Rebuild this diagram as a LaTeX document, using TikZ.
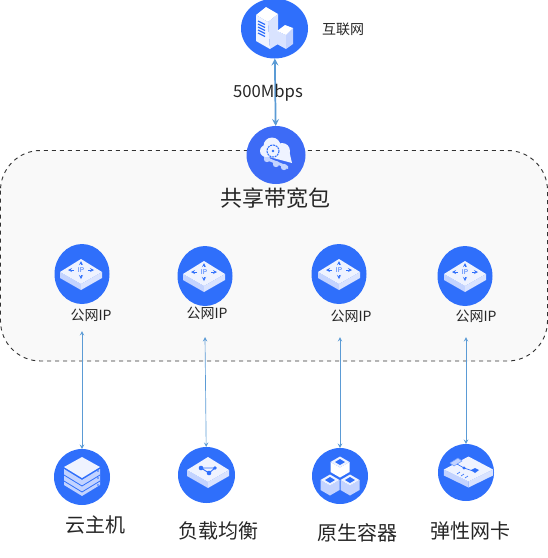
\documentclass[tikz,border=0pt]{standalone}
\usepackage{fontspec}
\setmainfont{Noto Sans CJK SC}
\usetikzlibrary{shapes.geometric, arrows}

\definecolor{discblue}{HTML}{2F6FFB}
\definecolor{cloudblue}{HTML}{3D6BF6}
\definecolor{linkblue}{HTML}{5B9BD5}
\definecolor{facetop}{HTML}{EFF3FF}
\definecolor{faceleft}{HTML}{C3D3FF}
\definecolor{faceright}{HTML}{D9E3FF}

\tikzset{
    disc/.style 2 args={ellipse, fill=discblue, draw=none, inner sep=0pt, outer sep=0pt, minimum width=#1*0.75pt, minimum height=#2*0.75pt},
    txt/.style={inner sep=0pt, text=black!85},
    link/.style={stealth-stealth, linkblue, line width=0.5pt},
    pics/slab/.style={code={
        \fill[faceleft] (-21,0) -- (0,12) -- (0,18) -- (-21,6) -- cycle;
        \fill[faceright] (21,0) -- (0,12) -- (0,18) -- (21,6) -- cycle;
        \fill[facetop] (-21,0) -- (0,-13) -- (21,0) -- (0,12) -- cycle;
    }},
    pics/ipmark/.style={code={
        \node[inner sep=0pt, text=discblue, font=\fontsize{5}{6}\selectfont] (-ip) at (0,0) {IP};
        \draw[discblue, line width=0.35pt, -stealth] (-7,0) -- (-13,0);
        \draw[discblue, line width=0.35pt, -stealth] (7,0) -- (13,0);
        \draw[discblue, line width=0.35pt, -stealth] (0,-5) -- (0,-9);
        \draw[discblue, line width=0.35pt, -stealth] (0,5) -- (0,9);
    }},
    pics/cube/.style={code={
        \fill[#1] (-9.5,0) -- (0,5.5) -- (9.5,0) -- (9.5,10) -- (0,15.5) -- (-9.5,10) -- cycle;
        \fill[facetop] (-9.5,0) -- (0,-5.5) -- (9.5,0) -- (0,5.5) -- cycle;
        \fill[discblue] (-5,0) -- (0,-3) -- (5,0) -- (0,3) -- cycle;
    }},
}

\begin{document}
\begin{tikzpicture}[x=0.75pt, y=-0.75pt]
    \useasboundingbox (0,0) rectangle (548,558);

    % container
    \draw[dashed, line width=0.7pt, black!80, fill=black!2.5, rounded corners=30pt] (0.5,150.5) rectangle (547.5,361);

    % discs
    \node[disc={67}{60}] (inet) at (274.5,28.5) {};
    \node[disc={59}{58}, fill=cloudblue] (bwpkg) at (276,155) {};
    \node[disc={55}{60}] (ipA) at (82,274) {};
    \node[disc={55}{60}] (ipB) at (205,276) {};
    \node[disc={55}{60}] (ipC) at (339,274) {};
    \node[disc={55}{60}] (ipD) at (465,276) {};
    \node[disc={56}{56}] (ecs) at (82,477) {};
    \node[disc={57}{56}] (slb) at (206.5,475) {};
    \node[disc={56}{56}] (ctr) at (340,476) {};
    \node[disc={56}{57}] (eni) at (466,472.5) {};

    % building
    \fill[white] (256,15) -- (266,7) -- (278,14) -- (268,22) -- cycle;
    \fill[facetop] (256,15) -- (268,22) -- (270,49) -- (256,41) -- cycle;
    \fill[faceright] (268,22) -- (278,14) -- (278,44) -- (270,49) -- cycle;
    \foreach \h in {21,24,27,30,33}
        \draw[discblue, line width=0.9pt] (258,\h) -- (265,\h+3.5);
    \fill[faceright] (277,31) -- (286,35) -- (286,49) -- (277,44) -- cycle;
    \fill[faceleft] (286,35) -- (293,28) -- (293,44) -- (286,49) -- cycle;
    \fill[white] (277,31) -- (285,25) -- (293,28) -- (286,35) -- cycle;

    % cloud
    \foreach \px/\py in {267/159, 276/164, 284/167}
        \fill[faceleft] (\px,\py) circle (3.2);
    \fill[faceleft] (264,156) -- (288,166) -- (288,169) -- (264,159) -- cycle;
    \fill[facetop] (272,146) circle (8.5);
    \fill[facetop] (282,151) circle (8);
    \fill[facetop] (266,151) circle (6);
    \fill[facetop] (261,150) -- (289,150) -- (292,163) -- (262,155) -- cycle;
    \draw[discblue, line width=0.8pt, dash pattern=on 1.5pt off 0.6pt] (273,151) circle (6);
    \fill[discblue] (273,151) circle (1.4);

    % public ip icons
    \pic at (81,272) {slab};
    \pic at (81,270) {ipmark};
    \pic at (204,274) {slab};
    \pic at (204,272) {ipmark};
    \pic at (339,272) {slab};
    \pic at (339,270) {ipmark};
    \pic at (465,274) {slab};
    \pic at (465,272) {ipmark};

    % server stack
    \fill[faceleft] (64,469) -- (82,480) -- (100,469) -- (100,485) -- (82,496) -- (64,485) -- cycle;
    \draw[discblue, line width=0.6pt] (64,475) -- (82,486) -- (100,475);
    \draw[discblue, line width=0.6pt] (64,481) -- (82,492) -- (100,481);
    \fill[facetop] (64,467) -- (82,457) -- (100,467) -- (82,478) -- cycle;
    \foreach \h in {471,478,485}
        \fill[discblue] (98,\h) circle (0.9);

    % balancer
    \pic at (208,470) {slab};
    \draw[discblue, line width=0.7pt] (201,468) -- (215,468) -- (209,473) -- cycle;
    \fill[discblue] (201,468) circle (2.3);
    \fill[discblue] (215,468) circle (1.8);
    \fill[discblue] (209,473) circle (2.3);

    % containers
    \pic at (340,462) {cube=white};
    \pic at (330,480) {cube=faceleft};
    \pic at (350,480) {cube=faceleft};

    % network card
    \pic[xscale=1.17] at (468.5,469.5) {slab};
    \fill[faceleft] (450,463) -- (458,458) -- (462,461) -- (454,466) -- cycle;
    \draw[discblue!70, line width=0.4pt] (450,463) -- (458,458) -- (462,461) -- (454,466) -- cycle;
    \draw[discblue, line width=0.5pt] (457,464) -- (464,468) -- (473,471);
    \fill[discblue] (464,468) circle (1.7);
    \fill[discblue] (471,470) -- (475,468) -- (479,470) -- (475,473) -- cycle;
    \foreach \px/\py in {457/474, 461/476, 465/478}
        \draw[discblue, line width=0.5pt] (\px,\py) -- (\px+3,\py-2);

    % links
    \coordinate (tipA) at (82,331);
    \coordinate (tipB) at (205,337);
    \coordinate (tipC) at (340,337);
    \coordinate (tipD) at (466,337);
    \draw[link, line width=1.3pt] (inet) -- (bwpkg);
    \draw[link] (tipA) -- (ecs);
    \draw[link] (tipB) -- (slb);
    \draw[link] (tipC) -- (ctr);
    \draw[link] (tipD) -- (eni);

    % labels
    \node[txt, font=\fontsize{10.5}{12}\selectfont] (inetlabel) at (343,29) {互联网};
    \node[txt, font=\fontsize{12.5}{14}\selectfont] (ratelabel) at (268,93) {500Mbps};
    \node[txt, font=\fontsize{16.5}{19}\selectfont] (pkglabel) at (275,198) {共享带宽包};
    \node[txt, font=\fontsize{10.5}{12}\selectfont] (iplabelA) at (91,315.5) {公网IP};
    \node[txt, font=\fontsize{10.5}{12}\selectfont] (iplabelB) at (207,313) {公网IP};
    \node[txt, font=\fontsize{10.5}{12}\selectfont] (iplabelC) at (351,316) {公网IP};
    \node[txt, font=\fontsize{10.5}{12}\selectfont] (iplabelD) at (476,316) {公网IP};
    \node[txt, font=\fontsize{15}{17}\selectfont] (ecslabel) at (95,525) {云主机};
    \node[txt, font=\fontsize{15}{17}\selectfont] (slblabel) at (218,531) {负载均衡};
    \node[txt, font=\fontsize{15}{17}\selectfont] (ctrlabel) at (357,533) {原生容器};
    \node[txt, font=\fontsize{15}{17}\selectfont] (enilabel) at (470,531) {弹性网卡};
\end{tikzpicture}
\end{document}
